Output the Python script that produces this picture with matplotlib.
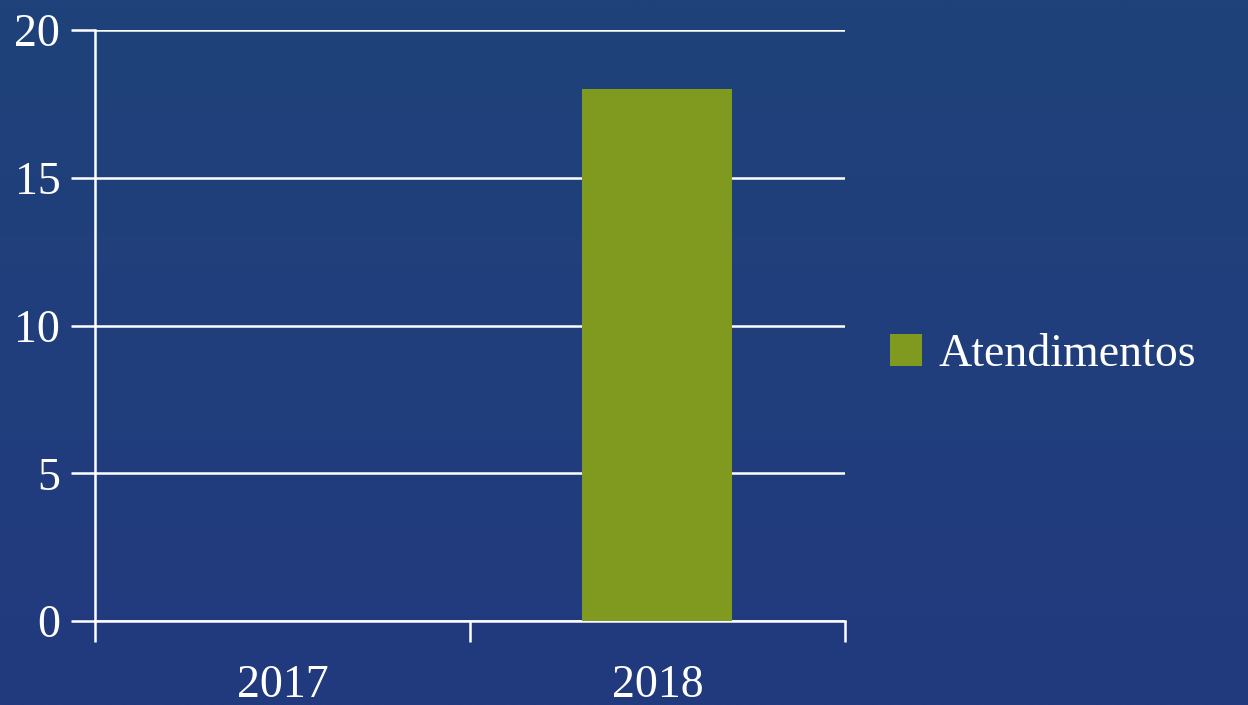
import numpy as np
import matplotlib.pyplot as plt
from matplotlib.colors import LinearSegmentedColormap

# dados
anos = ['2017', '2018']
atendimentos = [0, 18]
yticks = [0, 5, 10, 15, 20]

plt.rcParams['font.family'] = ['Liberation Serif', 'DejaVu Serif']

fig = plt.figure(figsize=(12.48, 7.05), dpi=100)

# fundo azul com leve gradiente
bg = fig.add_axes([0, 0, 1, 1], zorder=-10)
grad = np.linspace(0, 1, 256).reshape(-1, 1)
cmap = LinearSegmentedColormap.from_list('fundo', ['#1f4279', '#223a7f'])
bg.imshow(grad, aspect='auto', cmap=cmap, extent=[0, 1, 0, 1])
bg.axis('off')

ax = fig.add_axes([95 / 1248, 1 - 621 / 705, 750 / 1248, 591 / 705])
ax.patch.set_alpha(0)

x = np.arange(len(anos))
ax.bar(x, atendimentos, width=0.4, color='#7f9a1e', label='Atendimentos', zorder=3)

ax.set_xlim(-0.5, 1.5)
ax.set_ylim(0, 20)
ax.set_yticks(yticks)
ax.yaxis.grid(True, color='white', linewidth=1.8, zorder=1)
ax.set_axisbelow(True)

ax.set_xticks(x)
ax.set_xticklabels(anos)
ax.set_xticks([-0.5, 0.5, 1.5], minor=True)
ax.tick_params(axis='x', which='major', length=0, pad=31, labelsize=33, labelcolor='white')
ax.tick_params(axis='x', which='minor', length=15, width=1.8, color='white', direction='out')
ax.tick_params(axis='y', length=17, width=1.8, color='white', pad=8, labelsize=33, labelcolor='white')

for s in ['top', 'right']:
    ax.spines[s].set_visible(False)
for s in ['left', 'bottom']:
    ax.spines[s].set_color('white')
    ax.spines[s].set_linewidth(1.8)

leg = fig.legend(loc='center left', bbox_to_anchor=(849 / 1248, 1 - 355 / 705),
                 frameon=False, fontsize=33, handlelength=0.7, handleheight=0.7,
                 handletextpad=0.35, labelcolor='white')

fig.savefig('out.png', dpi=100)
